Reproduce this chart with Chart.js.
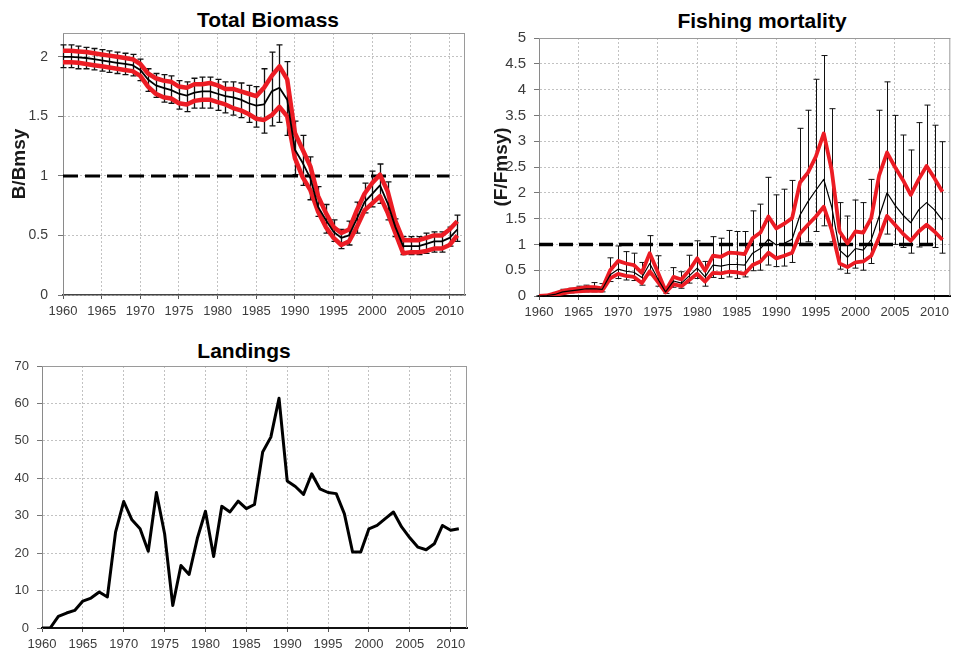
<!DOCTYPE html>
<html>
<head>
<meta charset="utf-8">
<script src="https://cdn.jsdelivr.net/npm/chart.js@4.4.1/dist/chart.umd.min.js"></script>
<style>
html, body { margin:0; padding:0; background:#fff; width:954px; height:648px; overflow:hidden; font-family:"Liberation Sans", Arial, sans-serif; }
.wrap { position:absolute; }
.title { position:absolute; font-weight:bold; font-size:21px; line-height:21px; color:#000; white-space:nowrap; transform:translateX(-50%); }
</style>
</head>
<body>
<div class="title" style="left:268px; top:9px;">Total Biomass</div>
<div class="title" style="left:762px; top:10px;">Fishing mortality</div>
<div class="title" style="left:244px; top:340px;">Landings</div>
<div class="wrap" style="left:0px; top:0px;"><canvas id="c1" width="475" height="320"></canvas></div>
<div class="wrap" style="left:480px; top:0px;"><canvas id="c2" width="474" height="320"></canvas></div>
<div class="wrap" style="left:0px; top:330px;"><canvas id="c3" width="480" height="318"></canvas></div>
<script>
// ---------------- DATA ----------------
const years = [1960,1961,1962,1963,1964,1965,1966,1967,1968,1969,
               1970,1971,1972,1973,1974,1975,1976,1977,1978,1979,
               1980,1981,1982,1983,1984,1985,1986,1987,1988,1989,
               1990,1991,1992,1993,1994,1995,1996,1997,1998,1999,
               2000,2001,2002,2003,2004,2005,2006,2007,2008,2009,
               2010,2011];

const xTickYears = [1960,1965,1970,1975,1980,1985,1990,1995,2000,2005,2010];
const refLineYears = [1960, 2010];

// Total Biomass (B/Bmsy)
const bioMedian = [2.00,2.00,1.995,1.99,1.98,1.97,1.96,1.95,1.94,1.93,
                   1.89,1.81,1.76,1.74,1.72,1.69,1.675,1.70,1.71,1.71,
                   1.69,1.67,1.66,1.64,1.61,1.59,1.60,1.71,1.74,1.64,
                   1.22,1.11,0.98,0.74,0.63,0.53,0.48,0.50,0.64,0.78,
                   0.85,0.92,0.77,0.57,0.41,0.41,0.41,0.43,0.45,0.45,
                   0.48,0.55];
const bioUpper  = [2.05,2.05,2.045,2.04,2.03,2.02,2.01,2.00,1.99,1.98,
                   1.94,1.86,1.82,1.80,1.79,1.75,1.74,1.77,1.77,1.78,
                   1.76,1.73,1.73,1.71,1.69,1.67,1.74,1.84,1.92,1.81,
                   1.36,1.22,1.08,0.83,0.69,0.57,0.52,0.55,0.71,0.85,
                   0.94,1.01,0.87,0.62,0.46,0.46,0.46,0.48,0.50,0.50,
                   0.55,0.62];
const bioLower  = [1.955,1.955,1.95,1.94,1.93,1.92,1.91,1.90,1.89,1.88,
                   1.84,1.75,1.69,1.66,1.65,1.61,1.60,1.63,1.64,1.64,
                   1.62,1.60,1.57,1.55,1.52,1.48,1.47,1.51,1.58,1.50,
                   1.15,0.99,0.88,0.70,0.57,0.48,0.42,0.45,0.57,0.71,
                   0.77,0.83,0.69,0.52,0.35,0.36,0.36,0.37,0.39,0.39,
                   0.42,0.50];
const bioErrHigh = [2.10,2.10,2.09,2.08,2.07,2.06,2.05,2.04,2.03,2.02,
                    1.98,1.90,1.86,1.85,1.84,1.80,1.79,1.82,1.83,1.83,
                    1.81,1.79,1.79,1.78,1.76,1.75,1.90,2.04,2.10,1.96,
                    1.46,1.34,1.16,0.91,0.76,0.63,0.55,0.62,0.78,0.94,
                    1.04,1.10,0.95,0.64,0.49,0.49,0.49,0.52,0.53,0.53,
                    0.57,0.67];
const bioErrLow  = [1.91,1.91,1.90,1.90,1.89,1.88,1.87,1.86,1.85,1.84,
                    1.80,1.71,1.66,1.62,1.61,1.56,1.54,1.57,1.57,1.57,
                    1.55,1.53,1.51,1.49,1.45,1.41,1.36,1.42,1.45,1.34,
                    1.01,0.92,0.80,0.66,0.52,0.45,0.39,0.42,0.52,0.69,
                    0.74,0.77,0.63,0.49,0.34,0.34,0.34,0.35,0.36,0.36,
                    0.41,0.45];
const bioRef = [1, 1];
const bioYTicks = [0, 0.5, 1, 1.5, 2];

// Fishing mortality (F/Fmsy)
const fmMedian = [0.00,0.01,0.03,0.08,0.10,0.12,0.14,0.14,0.13,0.41,
                  0.52,0.48,0.46,0.36,0.63,0.34,0.08,0.29,0.25,0.39,
                  0.54,0.37,0.60,0.58,0.61,0.61,0.60,0.83,0.92,1.10,
                  0.99,1.02,1.10,1.57,1.83,2.05,2.26,1.73,0.89,0.75,
                  0.92,0.89,1.09,1.54,2.00,1.76,1.57,1.42,1.67,1.81,
                  1.67,1.47];
const fmUpper  = [0.00,0.01,0.05,0.10,0.13,0.15,0.17,0.17,0.15,0.50,
                  0.68,0.63,0.60,0.45,0.83,0.47,0.10,0.37,0.32,0.50,
                  0.73,0.49,0.78,0.76,0.84,0.83,0.81,1.12,1.23,1.54,
                  1.31,1.40,1.51,2.20,2.39,2.70,3.15,2.44,1.25,1.02,
                  1.25,1.23,1.51,2.34,2.78,2.50,2.25,1.96,2.26,2.52,
                  2.28,2.02];
const fmLower  = [0.00,0.00,0.02,0.05,0.08,0.09,0.10,0.10,0.10,0.34,
                  0.43,0.39,0.37,0.25,0.48,0.28,0.07,0.23,0.19,0.31,
                  0.43,0.28,0.45,0.44,0.47,0.46,0.43,0.60,0.67,0.84,
                  0.73,0.78,0.84,1.21,1.38,1.54,1.73,1.28,0.63,0.56,
                  0.65,0.67,0.78,1.14,1.55,1.38,1.21,1.07,1.25,1.38,
                  1.25,1.09];
const fmErrHigh = [0.00,0.02,0.07,0.13,0.15,0.19,0.21,0.26,0.24,0.74,
                   0.97,0.86,0.83,0.65,1.17,0.78,0.12,0.55,0.47,0.79,
                   1.07,0.67,1.15,1.12,1.27,1.25,1.25,1.65,1.78,2.30,
                   1.96,2.07,2.24,3.25,3.60,4.20,4.66,3.63,1.81,1.55,
                   1.86,1.81,2.26,3.60,4.15,3.50,3.12,2.83,3.36,3.70,
                   3.31,2.99];
const fmErrLow  = [0.00,0.00,0.01,0.04,0.06,0.07,0.08,0.08,0.08,0.28,
                   0.34,0.31,0.30,0.21,0.41,0.19,0.05,0.17,0.15,0.25,
                   0.34,0.19,0.36,0.34,0.37,0.34,0.37,0.49,0.50,0.60,
                   0.57,0.58,0.65,1.02,1.05,1.25,1.36,1.05,0.52,0.44,
                   0.54,0.50,0.63,1.00,1.20,1.00,0.94,0.83,0.95,0.99,
                   0.94,0.83];
const fmRef = [1, 1];
const fmYTicks = [0, 0.5, 1, 1.5, 2, 2.5, 3, 3.5, 4, 4.5, 5];

// Landings
const landings = [0,0,3.1,4.0,4.7,7.2,8.0,9.6,8.3,25.6,
                  33.8,28.9,26.5,20.5,36.2,25.2,6.0,16.7,14.3,23.9,
                  31.2,19.1,32.5,31.0,33.9,31.9,33.0,47.0,51.0,61.4,
                  39.3,37.8,35.7,41.2,37.2,36.2,35.9,30.5,20.3,20.3,
                  26.5,27.4,29.2,31.0,27.0,24.1,21.6,20.9,22.5,27.4,
                  26.1,26.5];
const landYTicks = [0, 10, 20, 30, 40, 50, 60, 70];

// ---------------- HELPERS ----------------
const FONT = '"Liberation Sans", Arial, sans-serif';
const RED = '#ec1c24';

function pts(xs, ys) { return xs.map((x, i) => ({ x: x, y: ys[i] })); }

function framePlugin(color) {
  return {
    id: 'frame',
    beforeDatasetsDraw(chart) {
      const a = chart.chartArea, ctx = chart.ctx;
      ctx.save();
      ctx.strokeStyle = color;
      ctx.lineWidth = 1;
      ctx.beginPath();
      ctx.moveTo(a.left, a.top + 0.5); ctx.lineTo(a.right, a.top + 0.5);
      ctx.moveTo(a.right - 0.5, a.top); ctx.lineTo(a.right - 0.5, a.bottom);
      ctx.stroke();
      ctx.restore();
    }
  };
}

function errorBarPlugin(xs, high, low, width, cap) {
  return {
    id: 'errorBars',
    beforeDatasetsDraw(chart) {
      const sx = chart.scales.x, sy = chart.scales.y, ctx = chart.ctx;
      ctx.save();
      ctx.strokeStyle = '#111';
      ctx.lineWidth = width;
      ctx.beginPath();
      xs.forEach((yr, i) => {
        const px = Math.round(sx.getPixelForValue(yr)) + 0.5;
        const pt = sy.getPixelForValue(high[i]);
        const pb = sy.getPixelForValue(low[i]);
        ctx.moveTo(px, pt); ctx.lineTo(px, pb);
        ctx.moveTo(px - cap, pt); ctx.lineTo(px + cap, pt);
        ctx.moveTo(px - cap, pb); ctx.lineTo(px + cap, pb);
      });
      ctx.stroke();
      ctx.restore();
    }
  };
}

function makeOptions(o) {
  return {
    responsive: false,
    animation: false,
    devicePixelRatio: 1,
    layout: { padding: { top: o.padTop, right: o.padRight, left: 0, bottom: 0 } },
    plugins: { legend: { display: false }, tooltip: { enabled: false }, title: { display: false } },
    elements: { point: { radius: 0 }, line: { tension: 0 } },
    scales: {
      x: {
        type: 'linear', min: 1960, max: 2012,
        afterBuildTicks: ax => { ax.ticks = xTickYears.map(v => ({ value: v })); },
        afterFit: ax => { ax.height = o.xHeight; },
        ticks: { autoSkip: false, maxRotation: 0, padding: 5, color: '#3c3c3c',
                 font: { family: FONT, size: 13 }, callback: v => String(v) },
        grid: { color: '#c2c2c2', tickColor: '#555', tickLength: 4, lineWidth: 1 },
        border: { display: true, color: o.bottomColor, width: o.bottomWidth, dash: [2, 2] }
      },
      y: {
        type: 'linear', min: 0, max: o.yMax,
        afterBuildTicks: ax => { ax.ticks = o.yTicks.map(v => ({ value: v })); },
        afterFit: ax => { ax.width = o.yWidth; },
        ticks: { autoSkip: false, padding: o.yTickPad, color: '#3c3c3c',
                 font: { family: FONT, size: o.yTickSize }, callback: v => String(v) },
        grid: { color: '#c2c2c2', tickColor: '#777', tickLength: 5, lineWidth: 1 },
        border: { display: true, color: '#8a8a8a', width: 1, dash: [2, 2] },
        title: { display: !!o.yTitle, text: o.yTitle || '', color: '#1a1a1a',
                 font: { family: FONT, size: 19, weight: 'bold' },
                 padding: { top: o.yTitlePad || 0, bottom: 0 } }
      }
    }
  };
}

// ---------------- CHART 1: Total Biomass ----------------
new Chart(document.getElementById('c1'), {
  type: 'line',
  data: {
    datasets: [
      { data: pts(years, bioMedian), borderColor: '#000', borderWidth: 1.8, borderJoinStyle: 'round' },
      { data: pts(years, bioUpper), borderColor: RED, borderWidth: 4.5, borderJoinStyle: 'round' },
      { data: pts(years, bioLower), borderColor: RED, borderWidth: 4.5, borderJoinStyle: 'round' },
      { data: pts(refLineYears, bioRef), borderColor: '#000', borderWidth: 3, borderDash: [15, 7] }
    ]
  },
  options: makeOptions({ padTop: 33, padRight: 10, xHeight: 25, yWidth: 63, yMax: 2.2,
                         yTicks: bioYTicks, yTickPad: 10, yTickSize: 14, yTitle: 'B/Bmsy', yTitlePad: 8,
                         bottomColor: '#444', bottomWidth: 1.5 }),
  plugins: [framePlugin('#9a9a9a'), errorBarPlugin(years, bioErrHigh, bioErrLow, 1.3, 3)]
});

// ---------------- CHART 2: Fishing mortality ----------------
new Chart(document.getElementById('c2'), {
  type: 'line',
  data: {
    datasets: [
      { data: pts(years, fmMedian), borderColor: '#000', borderWidth: 1.2, borderJoinStyle: 'round' },
      { data: pts(years, fmUpper), borderColor: RED, borderWidth: 3.8, borderJoinStyle: 'round' },
      { data: pts(years, fmLower), borderColor: RED, borderWidth: 3.8, borderJoinStyle: 'round' },
      { data: pts(refLineYears, fmRef), borderColor: '#000', borderWidth: 3.5, borderDash: [14, 6] }
    ]
  },
  options: makeOptions({ padTop: 38, padRight: 1, xHeight: 24, yWidth: 59, yMax: 5,
                         yTicks: fmYTicks, yTickPad: 8, yTickSize: 15, yTitle: '(F/Fmsy)', yTitlePad: 10,
                         bottomColor: '#000', bottomWidth: 2 }),
  plugins: [framePlugin('#9a9a9a'), errorBarPlugin(years, fmErrHigh, fmErrLow, 1, 3)]
});

// ---------------- CHART 3: Landings ----------------
new Chart(document.getElementById('c3'), {
  type: 'line',
  data: {
    datasets: [
      { data: pts(years, landings), borderColor: '#000', borderWidth: 3, borderJoinStyle: 'round' }
    ]
  },
  options: makeOptions({ padTop: 36, padRight: 13, xHeight: 20, yWidth: 42, yMax: 70,
                         yTicks: landYTicks, yTickPad: 8, yTickSize: 13, yTitle: '',
                         bottomColor: '#111', bottomWidth: 2 }),
  plugins: [framePlugin('#9a9a9a')]
});
</script>
</body>
</html>
